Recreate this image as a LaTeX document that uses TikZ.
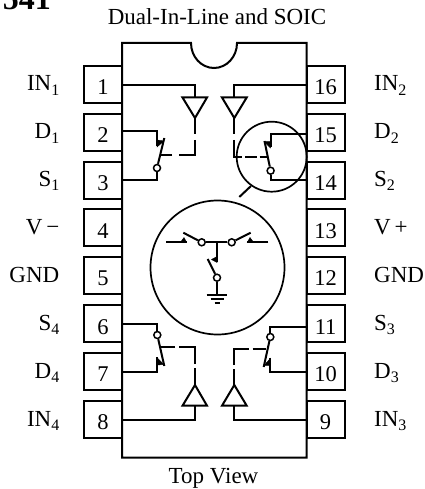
\documentclass[tikz,border=0pt]{standalone}
\usepackage{fontspec}
\setmainfont{Liberation Serif}
\newcommand\pinnum[1]{\smash{\raisebox{-10.4pt}{#1}}}
\newcommand\subdig[1]{\raisebox{-4.5pt}{\fontsize{16}{16}\selectfont #1}}
\tikzset{
  wire/.style={line width=2pt,line join=miter},
  pinbox/.style={draw,line width=2pt,rectangle,minimum width=38pt,minimum height=37pt,inner sep=0pt,font=\fontsize{22.5}{24}\selectfont},
  pinlabel/.style={inner sep=0pt,font=\fontsize{23}{24}\selectfont},
  caption/.style={inner sep=0pt,font=\fontsize{23}{24}\selectfont},
  buffer/.style={line width=2pt,fill=white,line join=miter},
  contact/.style={fill=black,draw=black,line width=.4pt},
  sw ring/.style={circle,draw,line width=1.5pt,fill=white,inner sep=0pt,minimum size=7pt}
}
\begin{document}
\begin{tikzpicture}[x=1pt,y=-1pt]
\useasboundingbox (0,0) rectangle (424,489);
% title, cut by the page edge
\node[anchor=base east,inner sep=0pt,font=\fontsize{32}{34}\selectfont\bfseries] (title) at (51,10) {541};
\node[caption,anchor=base] (top) at (217,25) {Dual-In-Line and SOIC};
\node[caption,anchor=base] (bottom) at (213.5,483) {Top View};
% package
\draw[line width=2pt] (122,43) -- (191,43) arc[start angle=180,end angle=360,radius=23,y radius=-25] -- (306.5,43) -- (306.5,457.7) -- (122,457.7) -- cycle;
% pins
\foreach \n/\y in {1/84.5,2/132.2,3/180,4/227.7,5/275.5,6/323.7,7/371.5,8/419.5}
  \node[pinbox] (p\n) at (103,\y) {\pinnum{\n}};
\foreach \n/\y in {16/84.5,15/132.2,14/180,13/227.7,12/275.5,11/323.7,10/371.5,9/419.5}
  \node[pinbox] (p\n) at (325.6,\y) {\pinnum{\n}};
% labels
\foreach \t/\s/\y in {IN/1/91,D/1/138.7,S/1/186.4,V\,−//234,GND//282,S/4/330,D/4/378,IN/4/426}
  \node[pinlabel,anchor=base east] at (59.5,\y) {\t\subdig{\s}};
\foreach \t/\s/\y in {IN/2/91,D/2/138.7,S/2/186.4,V\,+//234,GND//282,S/3/330,D/3/378,IN/3/426}
  \node[pinlabel,anchor=base west] at (374,\y) {\t\subdig{\s}};
% circles
\node[circle,draw,line width=1.7pt,minimum size=70pt,inner sep=0pt] (ring) at (271.7,156.7) {};
\node[circle,draw,line width=1.7pt,minimum size=134pt,inner sep=0pt] (big) at (217.5,267.5) {};
\draw[wire] (251,186) -- (239.3,197);
% ---- channel 1
\coordinate (b1t) at (195,97.5); \coordinate (b1a) at (195,118);
\draw[wire] (p1.east) ++(0,.5) -| (b1t);
\draw[buffer] (182.5,97.5) -- (207,97.5) -- (b1a) -- cycle;
\draw[wire] (b1a) -- (195,134.5) (195,140) -- (195,155) -- (179,155) (172,155) -- (160.5,155);
\node[sw ring] (s1) at (157,168) {};
\draw[wire] (p2.east) ++(0,-1) -| (157,146);
\draw[contact] (157,140) -- (164,141) -- (157,147) -- cycle;
\draw[wire] (164.3,138) -- (s1);
\draw[wire] (s1) |- (p3.east);
% ---- channel 2
\coordinate (b2t) at (234.3,97.5); \coordinate (b2a) at (234.3,118);
\draw[wire] (p16.west) ++(0,.5) -| (b2t);
\draw[buffer] (222,97.5) -- (246.7,97.5) -- (b2a) -- cycle;
\draw[wire] (b2a) -- (234.3,134.5) (234.3,140) -- (234.3,157) -- (242,157) (245,157) -- (257,157) (259.5,157) -- (267,157);
\node[sw ring] (s2) at (270.6,170.7) {};
\draw[wire] (p15.west) ++(0,2) -| (270.5,147);
\draw[contact] (270.5,141.5) -- (264,141.5) -- (270.5,148) -- cycle;
\draw[wire] (264.5,141) -- (s2);
\draw[wire] (s2) |- (p14.west);
% ---- channel 4
\coordinate (b4b) at (195,405.7); \coordinate (b4a) at (195,385);
\draw[wire] (p8.east) -| (b4b);
\draw[buffer] (182.5,405.7) -- (207,405.7) -- (b4a) -- cycle;
\draw[wire] (b4a) -- (195,368) (195,364) -- (195,347.3) -- (179,347.3) (175,347.3) -- (160.5,347.3);
\node[sw ring] (s4) at (157.3,335) {};
\draw[wire] (p6.east) -| (s4);
\draw[wire] (p7.east) -| (157.3,357);
\draw[contact] (157.3,358) -- (164,364.5) -- (157.3,365) -- cycle;
\draw[wire] (s4) -- (164.3,366);
% ---- channel 3
\coordinate (b3b) at (234.3,405.7); \coordinate (b3a) at (234.3,385);
\draw[wire] (p9.west) -| (b3b);
\draw[buffer] (222,405.7) -- (246.7,405.7) -- (b3a) -- cycle;
\draw[wire] (b3a) -- (234.3,369) (234.3,365) -- (234.3,349.3) -- (249.3,349.3) (252.7,349.3) -- (266,349.3);
\node[sw ring] (s3) at (270.3,337) {};
\draw[wire] (p11.west) ++(0,3.5) -| (s3);
\draw[wire] (p10.west) -| (270.3,358);
\draw[contact] (270.3,358.5) -- (264,365.5) -- (270.3,365.5) -- cycle;
\draw[wire] (s3) -- (263.7,367);
% ---- T switch
\node[sw ring] (ta) at (201.7,242.3) {};
\node[sw ring] (tb) at (231.7,242.3) {};
\node[sw ring] (tc) at (217,277.7) {};
\coordinate (tj) at (217,242.3);
\draw[wire] (ta) -- (tb);
\draw[wire] (166,242.3) -- (186.5,242.3);
\draw[contact] (180.5,242.3) -- (186.5,242.3) -- (184,237.5) -- cycle;
\draw[wire] (183.3,232.7) -- (ta);
\draw[wire] (268.3,242.3) -- (247.3,242.3);
\draw[contact] (247.3,242.3) -- (253.5,242.3) -- (250,237.5) -- cycle;
\draw[wire] (tb) -- (250.7,232.7);
\draw[wire] (tj) -- (217,262);
\draw[contact] (217,256.5) -- (217,262.5) -- (211.5,259.5) -- cycle;
\draw[wire] (207.7,259) -- (tc);
\coordinate (gnd) at (217,295);
\draw[wire] (tc) -- (gnd);
\draw[wire] (206.7,295) -- (227.3,295) (210.7,299) -- (224,299) (214.7,302.7) -- (220,302.7);
\end{tikzpicture}
\end{document}
